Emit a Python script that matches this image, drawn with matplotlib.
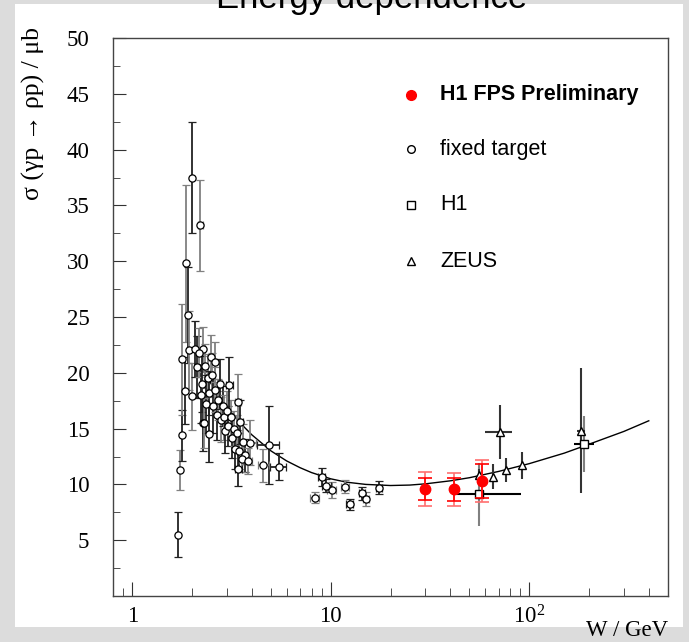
import matplotlib
matplotlib.use('Agg')
import matplotlib.pyplot as plt
from matplotlib.patches import Rectangle
from matplotlib.ticker import FixedLocator, NullFormatter, MultipleLocator

plt.rcParams['font.family'] = ['Liberation Serif', 'DejaVu Serif']
plt.rcParams['mathtext.fontset'] = 'stix'

# fixed target data (W in GeV, sigma in mub)
ft_w = [1.71, 1.75, 1.79, 1.79, 1.85, 1.87, 1.92, 1.94, 2.01, 2.01, 2.06, 2.20, 2.21, 2.28, 2.28,
        2.48, 2.12, 2.18, 2.25, 2.32, 2.36, 2.40, 2.44, 2.52, 2.56, 2.62, 2.66, 2.70, 2.76, 2.80,
        2.86, 2.90, 2.95, 3.00, 3.05, 3.14, 3.18, 3.25, 3.30, 3.36, 3.46, 3.62, 3.70, 2.30, 2.45,
        2.60, 3.09, 3.43, 3.51, 3.90, 4.86, 4.58, 5.47, 3.59, 3.43, 3.81,
        9.0, 8.3, 12.5, 10.1, 9.5, 11.8, 14.3, 15.0, 17.5]
ft_sigma = [5.5, 11.3, 14.4, 21.2, 18.4, 29.8, 25.2, 22.0, 37.5, 17.9, 22.1, 33.2, 18.0, 22.1, 15.5,
            21.4, 20.5, 21.8, 19.0, 20.6, 17.2, 19.5, 18.2, 19.8, 17.0, 18.5, 16.2, 17.6, 19.0, 15.8,
            17.0, 16.0, 14.8, 16.6, 15.2, 16.0, 14.2, 15.0, 13.2, 14.6, 13.0, 13.8, 12.6, 15.5, 14.5,
            21.0, 18.9, 17.4, 15.6, 13.75, 13.5, 11.7, 11.6, 12.3, 11.4, 12.1,
            10.7, 8.8, 8.2, 9.5, 9.9, 9.8, 9.2, 8.7, 9.7]
ft_err = [2.0, 1.8, 2.3, 5.0, 3.0, 7.0, 4.3, 3.5, 5.0, 3.0, 2.5, 4.1, 2.5, 2.0, 2.5,
          2.0, 2.8, 2.2, 2.5, 2.0, 2.6, 2.2, 2.0, 2.0, 2.4, 2.0, 2.2, 1.8, 2.2, 2.0,
          1.8, 2.0, 2.0, 1.8, 1.8, 1.6, 1.8, 1.6, 1.8, 1.6, 1.6, 1.6, 1.5, 2.2, 2.5,
          1.8, 2.5, 2.5, 2.0, 2.0, 3.5, 1.5, 1.2, 1.2, 1.5, 1.2,
          0.8, 0.5, 0.5, 0.7, 0.6, 0.6, 0.6, 0.6, 0.6]
ft_xerr = [0.0, 0.0, 0.0, 0.0, 0.0, 0.0, 0.0, 0.0, 0.0, 0.0, 0.0, 0.06, 0.0, 0.0, 0.0,
           0.05, 0.0, 0.0, 0.0, 0.05, 0.0, 0.0, 0.05, 0.0, 0.0, 0.06, 0.0, 0.0, 0.07, 0.0,
           0.0, 0.07, 0.0, 0.0, 0.08, 0.0, 0.0, 0.08, 0.0, 0.0, 0.09, 0.0, 0.0, 0.0, 0.0,
           0.0, 0.12, 0.12, 0.1, 0.3, 0.6, 0.3, 0.5, 0.15, 0.15, 0.2,
           0.4, 0.4, 0.5, 0.5, 0.5, 0.5, 0.5, 0.5, 0.6]

# H1 FPS preliminary
fps_w = [29.9, 41.9, 57.6]
fps_sigma = [9.6, 9.55, 10.3]
fps_stat = [1.0, 1.0, 1.5]
fps_tot = [1.5, 1.5, 1.9]

# H1
h1_w = [55.9, 189.5]
h1_sigma = [9.1, 13.6]
h1_err = [2.8, 2.5]
h1_xlo = [15.1, 21.5]
h1_xhi = [35.0, 22.5]

# ZEUS
zeus_w = [56.0, 65.6, 76.0, 92.0, 71.0, 183.0]
zeus_sigma = [10.8, 10.7, 11.3, 11.7, 14.7, 14.8]
zeus_err = [0.6, 1.1, 1.1, 1.2, 2.4, 5.6]
zeus_xerr = [0.0, 0.0, 0.0, 0.0, 11.0, 8.0]

# fit curve
fit_w = [2.2, 2.5, 3, 3.5, 4, 5, 6, 7, 8, 10, 12, 15, 20, 25, 30, 40, 50, 70, 100, 150, 200, 300, 400]
fit_sigma = [20.7, 19.0, 16.9, 15.5, 14.45, 13.0, 12.1, 11.5, 11.06, 10.5, 10.2, 10.0, 9.9, 9.94,
             10.05, 10.32, 10.6, 11.16, 11.86, 12.8, 13.6, 14.75, 15.7]

fig = plt.figure(figsize=(6.89, 6.42), dpi=100)
fig.patch.set_facecolor('#dcdcdc')
fig.patches.append(Rectangle((15 / 689, 1 - 627 / 642), 668 / 689, 623 / 642,
                             transform=fig.transFigure, facecolor='white', edgecolor='none', zorder=-5))

ax = fig.add_axes([113 / 689, 46 / 642, 555 / 689, 558 / 642])
ax.set_zorder(2)
ax.set_xscale('log')
ax.set_xlim(0.8, 500)
ax.set_ylim(0, 50)

# curve
ax.plot(fit_w, fit_sigma, color='black', lw=1.0, zorder=2)

# fixed target, alternating dark / grey error bars
for i in range(len(ft_w)):
    ec = '#222222' if i % 2 == 0 else '#808080'
    ax.errorbar(ft_w[i], ft_sigma[i], yerr=ft_err[i], xerr=ft_xerr[i] if ft_xerr[i] > 0 else None,
                fmt='o', ms=5.2, mfc='white', mec='black', mew=0.9,
                ecolor=ec, elinewidth=1.3, capsize=3, capthick=1.2, zorder=3)

# H1
ax.errorbar(h1_w, h1_sigma, yerr=h1_err, fmt='none', ecolor='#808080', elinewidth=1.5, zorder=3)
ax.errorbar(h1_w, h1_sigma, xerr=[h1_xlo, h1_xhi], fmt='s', ms=6, mfc='white', mec='black',
            mew=1.0, ecolor='black', elinewidth=1.5, zorder=4)

# ZEUS
ax.errorbar(zeus_w, zeus_sigma, yerr=zeus_err, xerr=zeus_xerr,
            fmt='^', ms=6, mfc='white', mec='black', mew=1.0, ecolor='#333333',
            elinewidth=1.5, zorder=4)

# H1 FPS preliminary
ax.errorbar(fps_w, fps_sigma, yerr=fps_tot, fmt='none', ecolor='#ff7070', elinewidth=1.2,
            capsize=5, capthick=1.2, zorder=5)
ax.errorbar(fps_w, fps_sigma, yerr=fps_stat, fmt='o', ms=7.5, color='red', ecolor='red',
            elinewidth=1.2, capsize=5, capthick=1.2, zorder=6)

# ticks
ax.xaxis.set_major_locator(FixedLocator([1, 10, 100]))
ax.set_xticklabels(['1', '10', r'$\mathregular{10^2}$'])
ax.xaxis.set_minor_locator(FixedLocator([0.9] + [k * 10 ** e for e in range(3) for k in range(2, 10)]))
ax.xaxis.set_minor_formatter(NullFormatter())
ax.yaxis.set_minor_locator(MultipleLocator(2.5))
ax.set_yticks(range(5, 51, 5))
ax.tick_params(axis='both', which='both', direction='in', top=False, right=False,
               labelsize=16.5, color='#333333')
ax.tick_params(axis='x', which='major', length=10, pad=7)
ax.tick_params(axis='x', which='minor', length=6)
ax.tick_params(axis='y', which='major', length=9, pad=17)
ax.tick_params(axis='y', which='minor', length=5)
for s in ax.spines.values():
    s.set_color('#444444')
    s.set_linewidth(1.0)

# legend drawn by hand
leg_x, txt_x = 0.537, 0.589
fs_leg = 15.5
ax.plot([leg_x], [0.898], 'o', ms=7, color='red', transform=ax.transAxes, clip_on=False)
ax.text(txt_x, 0.898, 'H1 FPS Preliminary', transform=ax.transAxes, va='center',
        family='Liberation Sans', fontweight='bold', fontsize=fs_leg)
ax.plot([leg_x], [0.801], 'o', ms=5.5, mfc='white', mec='black', transform=ax.transAxes)
ax.text(txt_x, 0.801, 'fixed target', transform=ax.transAxes, va='center',
        family='Liberation Sans', fontsize=fs_leg)
ax.plot([leg_x], [0.701], 's', ms=6, mfc='white', mec='black', transform=ax.transAxes)
ax.text(txt_x, 0.701, 'H1', transform=ax.transAxes, va='center',
        family='Liberation Sans', fontsize=fs_leg)
ax.plot([leg_x], [0.600], '^', ms=5.5, mfc='white', mec='black', transform=ax.transAxes)
ax.text(txt_x, 0.600, 'ZEUS', transform=ax.transAxes, va='center',
        family='Liberation Sans', fontsize=fs_leg)

# axis titles
fig.text(33 / 689, 1 - 27 / 642, 'σ (γp → ρp) / μb', rotation=90, ha='center', va='top',
         fontsize=18.5)
fig.text(668 / 689, 1 - 631 / 642, 'W / GeV', ha='right', va='center', fontsize=16.5)

# slide title, cut off at the top as on the slide
fig.text(372 / 689, 1 - 8 / 642, 'Energy dependence', ha='center', va='baseline',
         family='Liberation Sans', fontsize=25)

fig.savefig('out.png', dpi=100, facecolor=fig.get_facecolor())
